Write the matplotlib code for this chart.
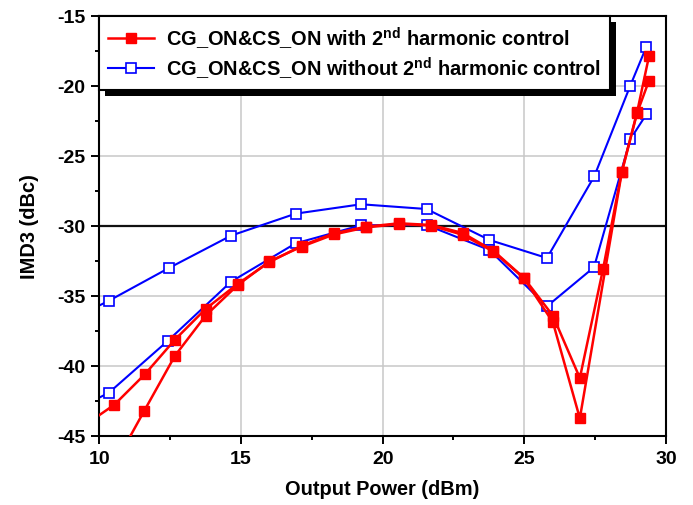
import numpy as np
import matplotlib
matplotlib.use("Agg")
import matplotlib.pyplot as plt
from matplotlib.patches import Rectangle
from matplotlib.ticker import MultipleLocator

plt.rcParams['font.family'] = ['Liberation Sans', 'DejaVu Sans']
plt.rcParams['font.weight'] = 'bold'
plt.rcParams['axes.unicode_minus'] = False
plt.rcParams['mathtext.fontset'] = 'custom'
plt.rcParams['mathtext.rm'] = 'Liberation Sans:bold'
plt.rcParams['mathtext.bf'] = 'Liberation Sans:bold'

# red: with 2nd harmonic control (two sweeps)
x_red1 = [9.45, 10.53, 11.61, 12.67, 13.75, 14.88, 16.0, 17.14, 18.29, 19.43, 20.58,
          21.72, 22.82, 23.91, 24.98, 26.01, 26.96, 27.78, 28.44, 28.98, 29.4]
y_red1 = [-44.3, -42.79, -40.61, -38.14, -35.95, -34.16, -32.61, -31.43, -30.54, -30.07, -29.83,
          -29.95, -30.52, -31.79, -33.71, -36.43, -40.88, -33.09, -26.14, -21.9, -17.9]
x_red2 = [10.53, 11.59, 12.67, 13.75, 14.88, 16.0, 17.14, 18.29, 19.43, 20.58,
          21.72, 22.82, 23.91, 24.98, 26.01, 26.96, 28.44, 28.98, 29.4]
y_red2 = [-47.1, -43.21, -39.29, -36.43, -34.25, -32.55, -31.5, -30.62, -30.12, -29.88,
          -30.0, -30.65, -31.85, -33.75, -36.9, -43.76, -26.2, -21.95, -19.64]

# blue: without 2nd harmonic control (two sweeps)
x_blue1 = [9.3, 10.34, 12.46, 14.65, 16.93, 19.24, 21.55, 23.77, 25.8, 27.47, 28.74, 29.31]
y_blue1 = [-36.4, -35.36, -33.02, -30.71, -29.14, -28.47, -28.81, -31.02, -32.31, -26.47, -20.0, -17.21]
x_blue2 = [9.3, 10.34, 12.41, 14.65, 16.93, 19.24, 21.55, 23.77, 25.8, 27.46, 28.74, 29.31]
y_blue2 = [-43.0, -41.93, -38.24, -34.0, -31.26, -29.97, -29.95, -31.74, -35.76, -32.97, -23.83, -22.04]

lab_red = 'CG_ON&CS_ON with 2$^{\\rm nd}$ harmonic control'
lab_blue = 'CG_ON&CS_ON without 2$^{\\rm nd}$ harmonic control'

fig = plt.figure(figsize=(6.93, 5.06), dpi=100)
ax = fig.add_axes([0.1433, 0.137, 0.8177, 0.830])
ax.set_axisbelow(True)

ax.plot(x_red1, y_red1, '-s', color='#ff0000', lw=1.8, ms=7.5, mfc='#ff0000', mec='#ff0000',
        label=lab_red, zorder=3)
ax.plot(x_red2, y_red2, '-s', color='#ff0000', lw=1.8, ms=7.5, mfc='#ff0000', mec='#ff0000',
        label='_nolegend_', zorder=3)
ax.plot(x_blue1, y_blue1, '-s', color='#0000ff', lw=1.5, ms=6.5, mfc='white', mec='#0000ff',
        mew=1.2, label=lab_blue, zorder=2.5)
ax.plot(x_blue2, y_blue2, '-s', color='#0000ff', lw=1.5, ms=6.5, mfc='white', mec='#0000ff',
        mew=1.2, label='_nolegend_', zorder=2.5)

ax.set_xlim(10, 30)
ax.set_ylim(-45, -15)
ax.xaxis.set_major_locator(MultipleLocator(5))
ax.xaxis.set_minor_locator(MultipleLocator(2.5))
ax.yaxis.set_major_locator(MultipleLocator(5))
ax.yaxis.set_minor_locator(MultipleLocator(2.5))
ax.grid(True, which='major', color='#c8c8c8', lw=1.1)
ax.axhline(-30, color='#111111', lw=1.6, zorder=1.5)

for s in ax.spines.values():
    s.set_linewidth(1.5)
ax.tick_params(which='major', direction='out', length=6, width=1.4, labelsize=14,
               top=False, right=False, pad=4)
ax.tick_params(which='minor', direction='out', length=3, width=1.4, top=False, right=False)
for t in ax.get_xticklabels() + ax.get_yticklabels():
    t.set_fontweight('bold')

ax.set_xlabel('Output Power (dBm)', fontsize=14.4, fontweight='bold', labelpad=9)
ax.set_ylabel('IMD3 (dBc)', fontsize=14.4, fontweight='bold', labelpad=13)

leg = ax.legend(loc='upper left', bbox_to_anchor=(0, 1), borderaxespad=0, fancybox=False,
                framealpha=1, edgecolor='black', fontsize=14.4, handlelength=2.3,
                labelspacing=0.2, borderpad=0.45, handletextpad=0.6)
leg.get_frame().set_linewidth(1.5)
leg.set_zorder(6)

# black drop shadow behind the legend box
fig.canvas.draw()
bb = leg.get_window_extent()
shadow = Rectangle((bb.x0 + 6, bb.y0 - 6), bb.width, bb.height, transform=None,
                   facecolor='black', edgecolor='none', zorder=5.9)
ax.add_artist(shadow)

fig.savefig('out.png', dpi=100)
